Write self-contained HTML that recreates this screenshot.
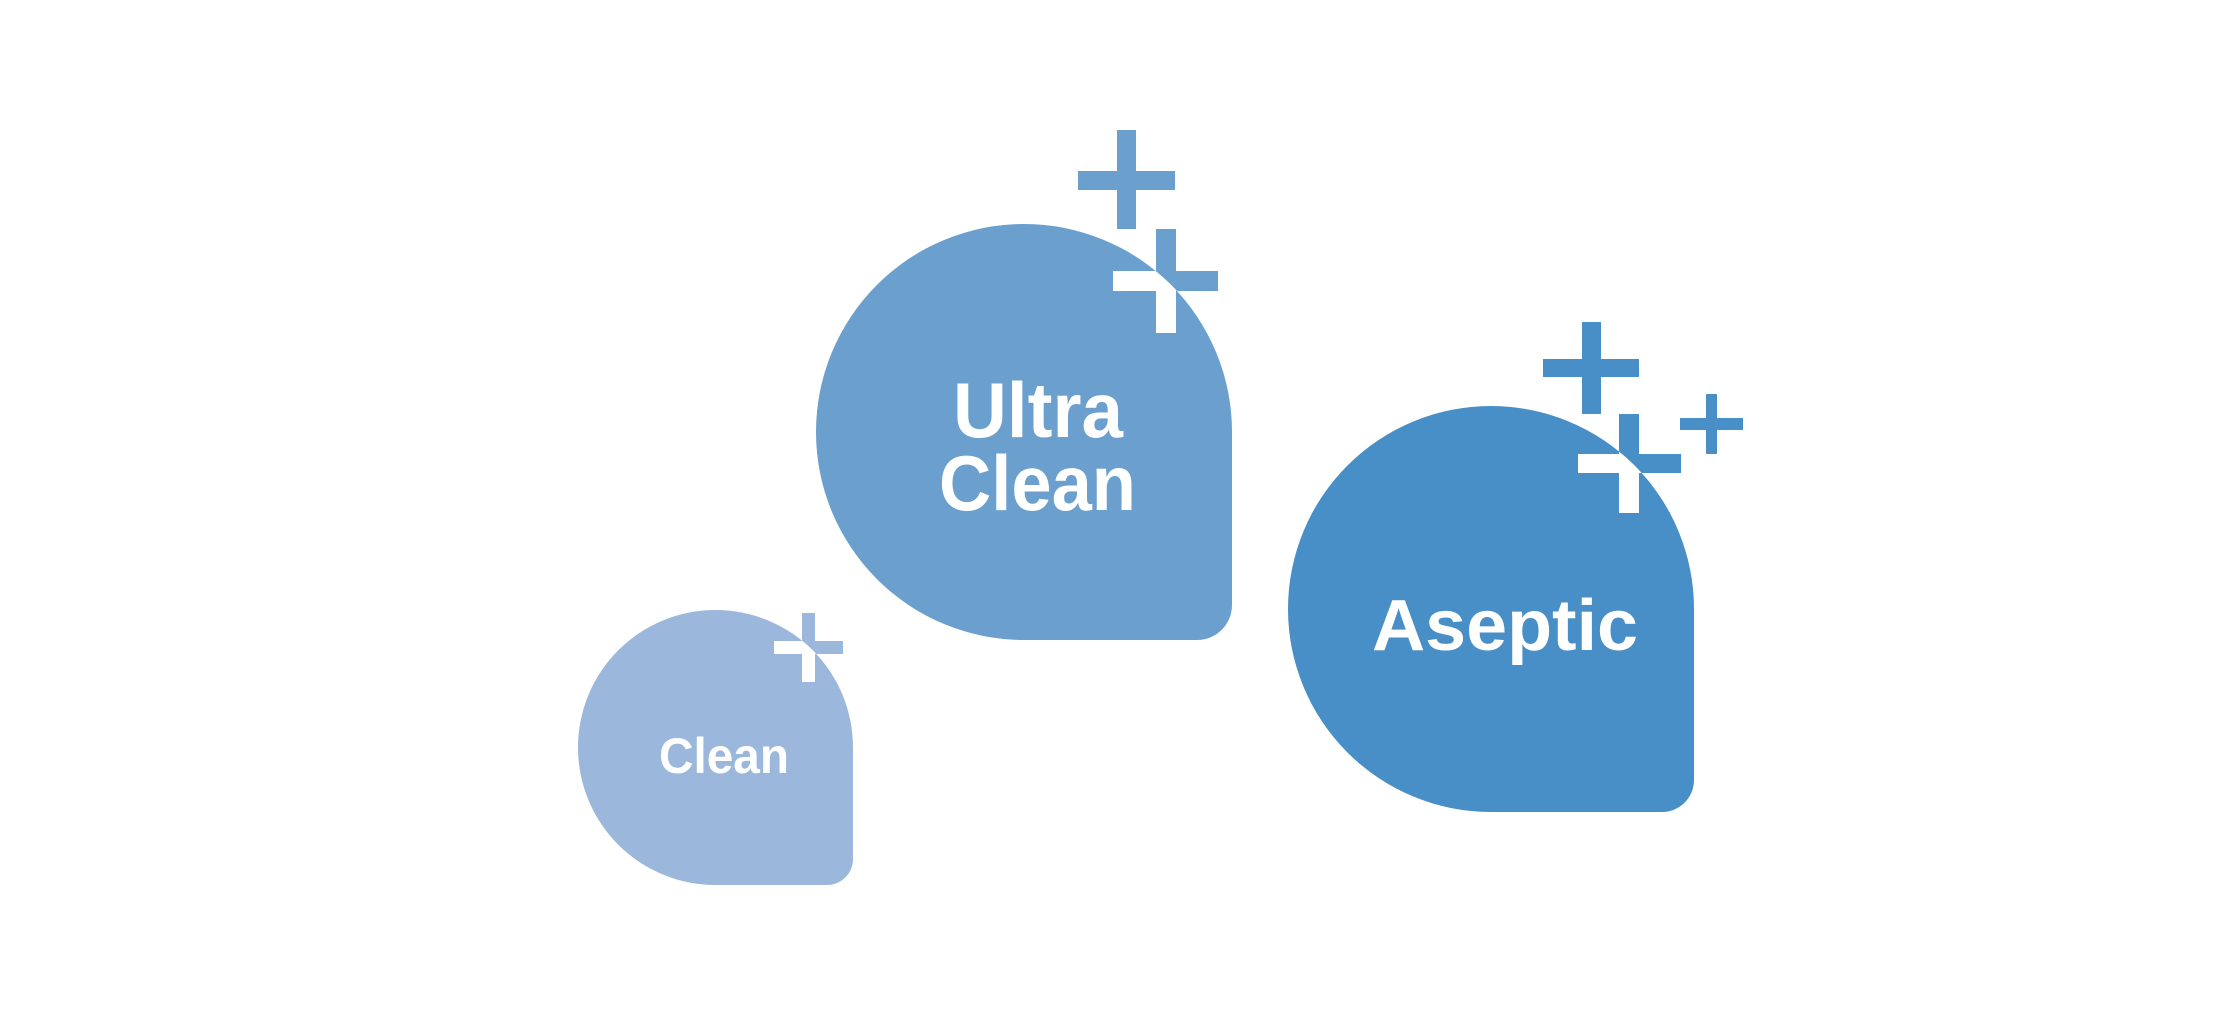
<!DOCTYPE html>
<html><head><meta charset="utf-8"><style>html,body{margin:0;padding:0;background:#fff}svg{display:block}</style></head>
<body>
<svg width="2240" height="1009" viewBox="0 0 2240 1009" xmlns="http://www.w3.org/2000/svg">
<defs>
<clipPath id="cU"><path d="M1024 224 A208 208 0 0 1 1232 432 L1232 605 A35 35 0 0 1 1197 640 L1024 640 A208 208 0 0 1 1024 224 Z"/></clipPath>
<clipPath id="cC"><path d="M715.5 610 A137.5 137.5 0 0 1 853 747.5 L853 859 A26 26 0 0 1 827 885 L715.5 885 A137.5 137.5 0 0 1 715.5 610 Z"/></clipPath>
<clipPath id="cA"><path d="M1491 406 A203 203 0 0 1 1694 609 L1694 780 A32 32 0 0 1 1662 812 L1491 812 A203 203 0 0 1 1491 406 Z"/></clipPath>
</defs>
<!-- Ultra Clean -->
<path fill="#6b9fce" d="M1024 224 A208 208 0 0 1 1232 432 L1232 605 A35 35 0 0 1 1197 640 L1024 640 A208 208 0 0 1 1024 224 Z"/>
<g fill="#6b9fce">
<rect x="1117" y="130" width="19" height="99"/><rect x="1078" y="171" width="97" height="19"/>
<rect x="1156" y="229" width="20" height="104"/><rect x="1113" y="271" width="105" height="20"/>
</g>
<g fill="#fff" clip-path="url(#cU)">
<rect x="1156" y="229" width="20" height="104"/><rect x="1113" y="271" width="105" height="20"/>
</g>
<g fill="#fff" font-family="Liberation Sans, sans-serif" font-size="78" font-weight="bold">
<text x="953" y="437" textLength="170" lengthAdjust="spacingAndGlyphs">Ultra</text>
<text x="939" y="510" textLength="197" lengthAdjust="spacingAndGlyphs">Clean</text>
</g>
<!-- Clean -->
<path fill="#9bb7dc" d="M715.5 610 A137.5 137.5 0 0 1 853 747.5 L853 859 A26 26 0 0 1 827 885 L715.5 885 A137.5 137.5 0 0 1 715.5 610 Z"/>
<g fill="#9bb7dc">
<rect x="802" y="613" width="13" height="69"/><rect x="774" y="641" width="69" height="13"/>
</g>
<g fill="#fff" clip-path="url(#cC)">
<rect x="802" y="613" width="13" height="69"/><rect x="774" y="641" width="69" height="13"/>
</g>
<text x="659" y="773" fill="#fff" font-family="Liberation Sans, sans-serif" font-size="50" font-weight="bold" textLength="130" lengthAdjust="spacingAndGlyphs">Clean</text>
<!-- Aseptic -->
<path fill="#488ec7" d="M1491 406 A203 203 0 0 1 1694 609 L1694 780 A32 32 0 0 1 1662 812 L1491 812 A203 203 0 0 1 1491 406 Z"/>
<g fill="#488ec7">
<rect x="1582" y="322" width="19" height="92"/><rect x="1543" y="359" width="96" height="18"/>
<rect x="1619" y="414" width="20" height="99"/><rect x="1578" y="454" width="103" height="19"/>
<rect x="1706" y="394" width="11" height="60"/><rect x="1680" y="418" width="63" height="12"/>
</g>
<g fill="#fff" clip-path="url(#cA)">
<rect x="1619" y="414" width="20" height="99"/><rect x="1578" y="454" width="103" height="19"/>
</g>
<text x="1372" y="650" fill="#fff" font-family="Liberation Sans, sans-serif" font-size="72" font-weight="bold" textLength="266" lengthAdjust="spacingAndGlyphs">Aseptic</text>
</svg>
</body></html>
